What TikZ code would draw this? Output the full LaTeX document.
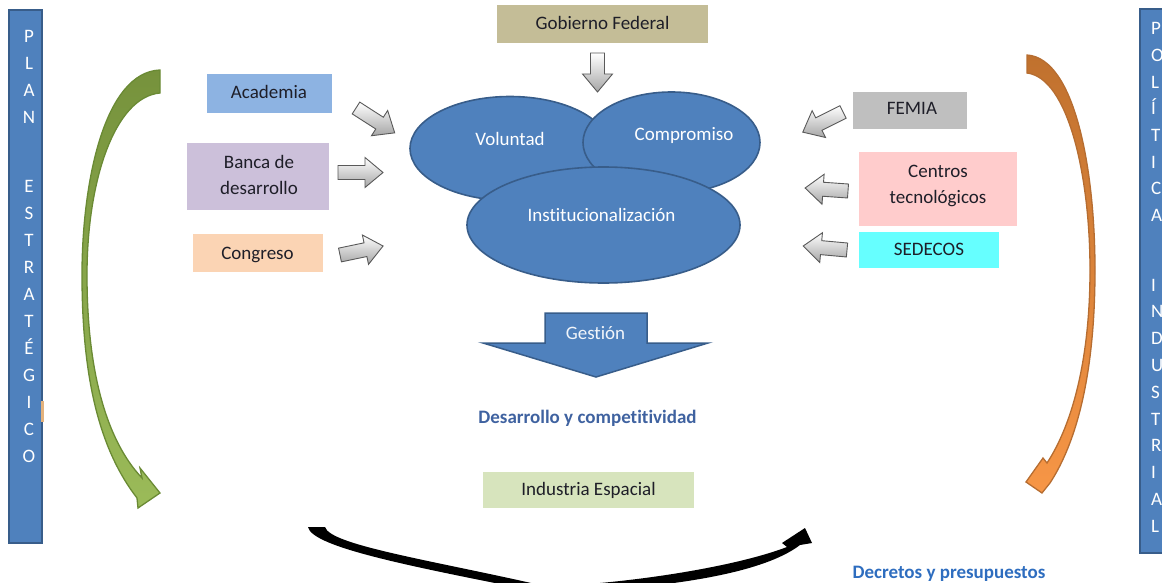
\documentclass[tikz,border=0pt]{standalone}
\usepackage{fontspec}
\setmainfont{Carlito}[Ligatures=CommonOff]
\usetikzlibrary{shapes.geometric}
\definecolor{blueA}{HTML}{4F81BD}
\definecolor{blueB}{HTML}{385D8A}
\definecolor{tanbox}{HTML}{C4BD97}
\definecolor{acad}{HTML}{8DB3E2}
\definecolor{banca}{HTML}{CCC0DA}
\definecolor{congr}{HTML}{FBD4B4}
\definecolor{femia}{HTML}{BFBFBF}
\definecolor{centros}{HTML}{FFCCCC}
\definecolor{sedecos}{HTML}{66FFFF}
\definecolor{indus}{HTML}{D7E4BD}
\definecolor{greenA}{HTML}{76923C}
\definecolor{greenB}{HTML}{9BBB59}
\definecolor{greenD}{HTML}{6A8A34}
\definecolor{orangeA}{HTML}{C0712E}
\definecolor{orangeB}{HTML}{F79646}
\definecolor{orangeD}{HTML}{B66D31}
\definecolor{desc}{HTML}{3F62A0}
\definecolor{decr}{HTML}{2E6DBF}
\definecolor{txt}{HTML}{1E1E28}
\definecolor{markcol}{HTML}{E3B27D}
\newcommand{\blockarr}[3]{%
  \begin{scope}[shift={#1},rotate=#2]
    \path[garrow] (0,-7) -- ({#3-18},-7) -- ({#3-18},-15) -- (#3,0) -- ({#3-18},15) -- ({#3-18},7) -- (0,7) -- cycle;
  \end{scope}}
\begin{document}
\begin{tikzpicture}[x=1pt, y=-1pt, font=\fontsize{19}{23}\selectfont,
  boxn/.style={rectangle, inner sep=0pt, draw=none},
  lbl/.style={anchor=base, inner sep=0pt, text=txt},
  bar/.style={rectangle, fill=blueA, draw=blueB, line width=2.5pt, inner sep=0pt},
  bartxt/.style={inner sep=0pt, text=white, text height=12pt, text depth=0pt},
  ell/.style={ellipse, fill=blueA, draw=blueB, line width=1.6pt, inner sep=0pt},
  garrow/.style={top color=white, bottom color=black!35, draw=black!65, line width=0.9pt},
  bold/.style={font=\fontsize{19}{23}\selectfont\bfseries}]
\useasboundingbox (0,0) rectangle (1162,583);
\clip (0,0) rectangle (1162,583);

% side bars
\node[bar, minimum width=33, minimum height=533] (lbar) at (25.5,276.5) {};
\fill[markcol] (41,401) rectangle (44,422);
\foreach \ch [count=\i from 0] in {P,L,A,N}
  \node[bartxt] (lp\i) at (29,37+26.9*\i) {\ch};
\foreach \ch [count=\i from 0] in {E,S,T,R,A,T,É,G,I,C,O}
  \node[bartxt] (le\i) at (29,187+26.9*\i) {\ch};

\node[bar, minimum width=36, minimum height=544] (rbar) at (1158,281) {};
\foreach \ch [count=\i from 0] in {P,O,L,Í,T,I,C,A}
  \node[bartxt, anchor=west] (rp\i) at (1151,29+26.6*\i) {\ch};
\foreach \ch [count=\i from 0] in {I,N,D,U,S,T,R,I,A,L}
  \node[bartxt, anchor=west] (ri\i) at (1151,285+26.8*\i) {\ch};

% boxes
\node[boxn, fill=tanbox, minimum width=211, minimum height=38] (gob) at (602.5,24) {};
\node[lbl] (gobt) at (602.5,30) {Gobierno Federal};
\node[boxn, fill=acad, minimum width=125, minimum height=39] (acad) at (269.5,93.5) {};
\node[lbl] (acadt) at (269,98.5) {Academia};
\node[boxn, fill=banca, minimum width=142, minimum height=67] (banca) at (258,176.5) {};
\node[lbl] (bancat1) at (259,168) {Banca de};
\node[lbl] (bancat2) at (259,194) {desarrollo};
\node[boxn, fill=congr, minimum width=130, minimum height=38] (congr) at (258,253) {};
\node[lbl] (congrt) at (257.5,259) {Congreso};
\node[boxn, fill=femia, minimum width=114, minimum height=37] (femia) at (910,110.5) {};
\node[lbl] (femiat) at (912,115) {FEMIA};
\node[boxn, fill=centros, minimum width=158, minimum height=74] (centros) at (938,189) {};
\node[lbl] (centrost1) at (938,178) {Centros};
\node[lbl] (centrost2) at (938,203.5) {tecnológicos};
\node[boxn, fill=sedecos, minimum width=140, minimum height=36] (sedecos) at (929,250) {};
\node[lbl] (sedecost) at (929,255) {SEDECOS};
\node[boxn, fill=indus, minimum width=211, minimum height=36] (indus) at (588.5,490) {};
\node[lbl] (indust) at (588.5,495) {Industria Espacial};

% ellipses
\node[ell, minimum width=200, minimum height=104] (vol) at (510,148.5) {};
\node[lbl, text=white] (volt) at (510,146) {Voluntad};
\node[ell, minimum width=177, minimum height=101] (comp) at (671.5,142.5) {};
\node[lbl, text=white] (compt) at (684,141) {Compromiso};
\node[ell, minimum width=273, minimum height=116] (inst) at (603.5,225) {};
\node[lbl, text=white] (instt) at (601.5,221) {Institucionalización};

% gray block arrows
\blockarr{(597.5,53)}{-90}{39}
\blockarr{(356,108)}{-32.7}{46}
\blockarr{(338,172.5)}{0}{45}
\blockarr{(340,255)}{11.8}{44}
\blockarr{(843,112)}{-153.4}{45}
\blockarr{(848,191)}{176}{43}
\blockarr{(847,250)}{174.8}{44}

% Gestion arrow
\path[fill=blueA, draw=blueB, line width=1.5pt, line join=miter]
  (545,313) -- (647,313) -- (647,343) -- (708,343) -- (596,377) -- (483,343) -- (545,343) -- cycle;
\node[lbl, text=white!92!blueA] (gest) at (595.5,339.5) {Gestión};

\node[lbl, bold, text=desc] (desa) at (587.5,423.5) {Desarrollo y competitividad};
\node[lbl, bold, text=decr] (decr) at (949,578) {Decretos y presupuestos};

% green curved arrow
\path[top color=greenA, bottom color=greenB, draw=greenD, line width=1.3pt, line join=miter]
  (160,70) .. controls (105,72) and (82,180) .. (82,275)
  .. controls (82,380) and (100,450) .. (137,498)
  -- (138,508) -- (160,493) -- (140,468) -- (142,478)
  .. controls (106,440) and (87,370) .. (87,275)
  .. controls (87,180) and (115,97) .. (160,93) -- cycle;

% orange curved arrow
\path[top color=orangeA, bottom color=orangeB, draw=orangeD, line width=1.3pt, line join=miter]
  (1027,55) .. controls (1075,58) and (1095,170) .. (1095,270)
  .. controls (1095,370) and (1078,440) .. (1050,483)
  -- (1042,493) -- (1026,482) -- (1043,458) -- (1047,463)
  .. controls (1072,425) and (1090,360) .. (1090,270)
  .. controls (1090,175) and (1068,78) .. (1027,73) -- cycle;

% black curved arrow
\fill[black]
  (325,527) .. controls (330,545) and (430,560) .. (540,585) -- (575,585)
  .. controls (650,580) and (740,565) .. (787,547)
  -- (782,543) -- (805,528) -- (812,543) -- (800,545)
  .. controls (770,568) and (700,585) .. (575,592) -- (540,592)
  .. controls (420,568) and (312,548) .. (308,527) -- cycle;
\end{tikzpicture}
\end{document}
